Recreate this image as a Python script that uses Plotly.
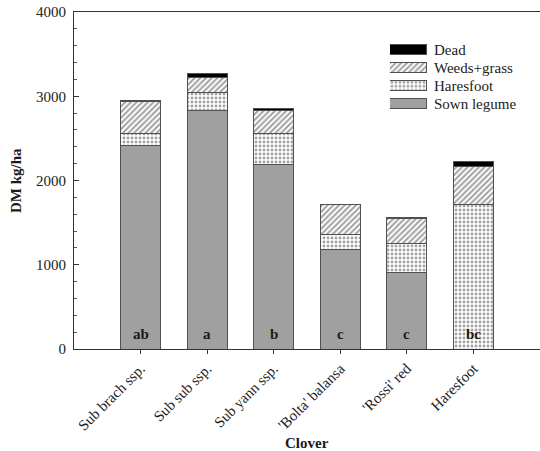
import plotly.graph_objects as go

# Clover cultivars and the dry-matter components (kg/ha) of each stacked bar
clovers = ["Sub brach ssp.", "Sub sub ssp.", "Sub yann ssp.",
           "'Bolta' balansa", "'Rossi' red", "Haresfoot"]
sown_legume = [2420, 2835, 2195, 1185, 905, 0]
haresfoot = [140, 210, 360, 175, 350, 1710]
weeds_grass = [375, 175, 270, 360, 290, 455]
dead = [20, 55, 30, 0, 12, 65]
letters = ["ab", "a", "b", "c", "c", "bc"]

# Legend entries, top to bottom
legend_names = ["Dead", "Weeds+grass", "Haresfoot", "Sown legume"]

FONT = "Liberation Serif"
EDGE = "#505050"

styles = {
    "Sown legume": dict(color="#a0a0a0", shape="", fg="#a0a0a0", size=5, sol=0.3),
    "Haresfoot": dict(color="white", shape=".", fg="#555555", size=4, sol=0.4),
    "Weeds+grass": dict(color="white", shape="/", fg="#1a1a1a", size=4, sol=0.5),
    "Dead": dict(color="black", shape="", fg="black", size=5, sol=0.3),
}


def marker_for(names):
    return dict(
        color=[styles[n]["color"] for n in names],
        pattern=dict(
            shape=[styles[n]["shape"] for n in names],
            fgcolor=[styles[n]["fg"] for n in names],
            bgcolor=[styles[n]["color"] for n in names],
            size=[styles[n]["size"] for n in names],
            solidity=[styles[n]["sol"] for n in names],
        ),
        line=dict(color=EDGE, width=1),
    )


series = [("Sown legume", sown_legume), ("Haresfoot", haresfoot),
          ("Weeds+grass", weeds_grass), ("Dead", dead)]

fig = go.Figure()
for name, vals in series:
    fig.add_trace(go.Bar(
        x=clovers, y=vals, name=name, width=0.6,
        marker=marker_for([name] * len(clovers)),
        showlegend=False,
    ))

# Legend drawn as a small inset of unit-length horizontal swatches
fig.add_trace(go.Bar(
    x=[1] * len(legend_names), y=legend_names, orientation="h",
    xaxis="x2", yaxis="y2", width=0.54, showlegend=False, hoverinfo="skip",
    marker=marker_for(legend_names),
))

# Significance letters at the foot of each bar
annotations = [
    dict(x=c, y=0, text=f"<b>{t}</b>", showarrow=False, xref="x", yref="y",
         yanchor="bottom", yshift=5, font=dict(family=FONT, size=15, color="#1a1a1a"))
    for c, t in zip(clovers, letters)
]
annotations += [
    dict(x=-0.1255, y=0.5, xref="paper", yref="paper", text="<b>DM kg/ha</b>",
         textangle=-90, showarrow=False, xanchor="center", yanchor="middle",
         font=dict(family=FONT, size=15, color="#1a1a1a")),
    dict(x=0.5, y=-0.279, xref="paper", yref="paper", text="<b>Clover</b>",
         showarrow=False, xanchor="center", yanchor="middle",
         font=dict(family=FONT, size=15, color="#1a1a1a")),
]

fig.update_layout(
    width=540, height=451,
    margin=dict(l=74, r=0, t=12, b=102),
    paper_bgcolor="white", plot_bgcolor="white",
    barmode="stack", bargap=0.4,
    font=dict(family=FONT, size=15, color="#222"),
    annotations=annotations,
    xaxis=dict(
        range=[-1, 6], showgrid=False, zeroline=False,
        showline=True, linecolor="#333", linewidth=1, mirror=True,
        ticks="outside", ticklen=4, tickcolor="#333", tickangle=-45,
        tickfont=dict(family=FONT, size=15, color="#222"), automargin=False,
    ),
    yaxis=dict(
        range=[0, 4000], dtick=1000, showgrid=False, zeroline=False,
        showline=True, linecolor="#333", linewidth=1, mirror=False,
        ticks="inside", ticklen=5, tickcolor="#333",
        minor=dict(dtick=200, ticks="inside", ticklen=3, tickcolor="#555"),
        tickfont=dict(family=FONT, size=15, color="#222"),
        ticklabelstandoff=4, automargin=False,
    ),
    xaxis2=dict(domain=[0.678, 0.7575], range=[0, 1], anchor="y2",
                visible=False, fixedrange=True),
    yaxis2=dict(domain=[0.702, 0.916], range=[3.5, -0.5], anchor="x2",
                type="category", side="right", showline=False, showgrid=False,
                zeroline=False, ticks="", ticklabelstandoff=6,
                tickfont=dict(family=FONT, size=15, color="#222"),
                fixedrange=True),
)

fig.write_html("out.html")
